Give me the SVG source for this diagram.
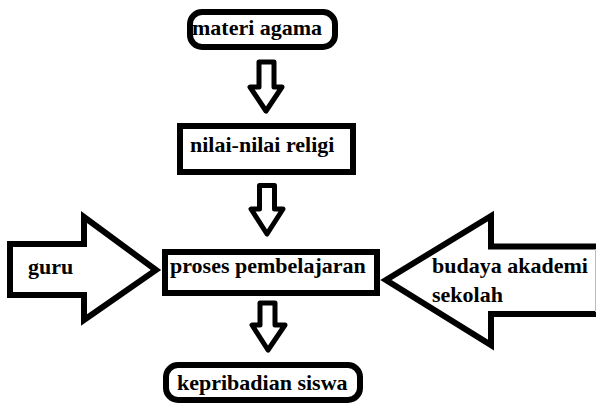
<svg xmlns="http://www.w3.org/2000/svg" width="596" height="407" viewBox="0 0 596 407">
<style>
.s{fill:#fff;stroke:#000;stroke-width:6;stroke-linejoin:miter}
.a{fill:#fff;stroke:#000;stroke-width:5;stroke-linejoin:round}
.t{font-family:"Liberation Serif","Times New Roman",serif;font-weight:bold;font-size:22px;fill:#000}
</style>
<rect width="596" height="407" fill="#fff"/>
<g id="connectors">
<path class="a" d="M259,62 H274 V87 H282 L266,111 L250,87 H259 Z"/>
<path class="a" d="M259.5,185.5 H274.5 V209 H283 L267,234 L251,209 H259.5 Z"/>
<path class="a" d="M260,303 H275 V325 H285 L268,350 L252,325 H260 Z"/>
</g>
<g id="guru">
<path class="s" d="M10,244 H84 V217 L156,270 L84,320 V295 H10 Z"/>
<text class="t" x="28" y="274">guru</text>
</g>
<g id="budaya">
<path class="s" d="M596,246.5 H491 V216 L386,280 L491,345 V314 H596"/>
<line x1="595.5" y1="249" x2="595.5" y2="312" stroke="#bbb" stroke-width="1"/>
<text class="t" x="432" y="273">budaya akademi</text>
<text class="t" x="432" y="302">sekolah</text>
</g>
<g id="materi">
<rect class="s" x="190" y="12" width="145" height="35" rx="12"/>
<text class="t" x="192" y="35">materi agama</text>
</g>
<g id="nilai">
<rect class="s" x="180" y="126" width="173" height="46"/>
<text class="t" x="190" y="152">nilai-nilai religi</text>
</g>
<g id="proses">
<rect class="s" x="165" y="252" width="212" height="41"/>
<text class="t" x="170" y="273">proses pembelajaran</text>
</g>
<g id="kepribadian">
<rect class="s" x="166" y="365" width="194" height="35" rx="12"/>
<text class="t" x="177" y="390">kepribadian siswa</text>
</g>
</svg>
